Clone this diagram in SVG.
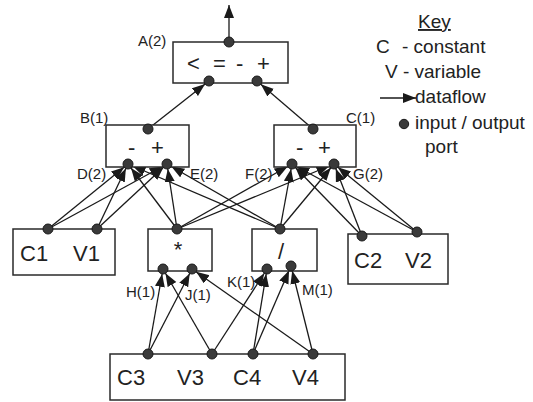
<svg xmlns="http://www.w3.org/2000/svg" width="533" height="402" viewBox="0 0 533 402">
<style>
.box{fill:#fff;stroke:#2a2a2a;stroke-width:1.5}
.port{fill:#3a3a3a;stroke:#1a1a1a;stroke-width:1}
.ln{stroke:#1a1a1a;stroke-width:1.3;fill:none}
.big{font-family:"Liberation Sans",Arial,sans-serif;font-size:22px;fill:#222}
.lbl{font-family:"Liberation Sans",Arial,sans-serif;font-size:15px;fill:#222}
.key{font-family:"Liberation Sans",Arial,sans-serif;font-size:19px;fill:#222}
</style>
<defs>
<marker id="arr" markerUnits="userSpaceOnUse" markerWidth="20" markerHeight="12" refX="18" refY="5" orient="auto">
<path d="M0,0 L13,5 L0,10 z" fill="#1a1a1a"/>
</marker>
<marker id="tip" markerUnits="userSpaceOnUse" markerWidth="14" markerHeight="12" refX="13" refY="5" orient="auto">
<path d="M0,0 L13,5 L0,10 z" fill="#1a1a1a"/>
</marker>
</defs>
<rect width="533" height="402" fill="#fff"/>

<g id="connectors" class="ln">
<line x1="229" y1="42" x2="229" y2="5" marker-end="url(#tip)"/>
<line x1="148" y1="129" x2="209" y2="81" marker-end="url(#arr)"/>
<line x1="313" y1="129" x2="257" y2="81" marker-end="url(#arr)"/>
<!-- D -->
<line x1="48" y1="229" x2="128" y2="164" marker-end="url(#arr)"/>
<line x1="97" y1="229" x2="128" y2="164" marker-end="url(#arr)"/>
<line x1="177" y1="229" x2="128" y2="164" marker-end="url(#arr)"/>
<line x1="280" y1="229" x2="128" y2="164" marker-end="url(#arr)"/>
<!-- E -->
<line x1="48" y1="229" x2="167" y2="164" marker-end="url(#arr)"/>
<line x1="97" y1="229" x2="167" y2="164" marker-end="url(#arr)"/>
<line x1="177" y1="229" x2="167" y2="164" marker-end="url(#arr)"/>
<line x1="280" y1="229" x2="167" y2="164" marker-end="url(#arr)"/>
<!-- F -->
<line x1="177" y1="229" x2="292" y2="164" marker-end="url(#arr)"/>
<line x1="280" y1="229" x2="292" y2="164" marker-end="url(#arr)"/>
<line x1="362" y1="236" x2="292" y2="164" marker-end="url(#arr)"/>
<line x1="417" y1="232" x2="292" y2="164" marker-end="url(#arr)"/>
<!-- G -->
<line x1="177" y1="229" x2="334" y2="164" marker-end="url(#arr)"/>
<line x1="280" y1="229" x2="334" y2="164" marker-end="url(#arr)"/>
<line x1="362" y1="236" x2="334" y2="164" marker-end="url(#arr)"/>
<line x1="417" y1="232" x2="334" y2="164" marker-end="url(#arr)"/>
<!-- H, J, K, M -->
<line x1="148" y1="354" x2="163" y2="269" marker-end="url(#arr)"/>
<line x1="212" y1="354" x2="163" y2="269" marker-end="url(#arr)"/>
<line x1="148" y1="354" x2="192" y2="269" marker-end="url(#arr)"/>
<line x1="313" y1="354" x2="192" y2="269" marker-end="url(#arr)"/>
<line x1="212" y1="354" x2="267" y2="269" marker-end="url(#arr)"/>
<line x1="253" y1="354" x2="267" y2="269" marker-end="url(#arr)"/>
<line x1="253" y1="354" x2="291" y2="266" marker-end="url(#arr)"/>
<line x1="313" y1="354" x2="291" y2="266" marker-end="url(#arr)"/>
</g>

<g id="nodeA">
<rect class="box" x="173" y="42" width="115" height="41"/>
<text class="big" y="71"><tspan x="187">&lt; </tspan><tspan x="213">=</tspan><tspan x="236">- </tspan><tspan x="257">+</tspan></text>
<text class="lbl" x="138" y="46">A(2)</text>
<circle class="port" cx="229" cy="42" r="5"/>
<circle class="port" cx="209" cy="81" r="5"/>
<circle class="port" cx="257" cy="81" r="5"/>
</g>

<g id="nodeB">
<rect class="box" x="106" y="125" width="83" height="42"/>
<text class="big" y="155"><tspan x="128">- </tspan><tspan x="151">+</tspan></text>
<text class="lbl" x="80" y="123">B(1)</text>
<circle class="port" cx="148" cy="129" r="5"/>
<circle class="port" cx="128" cy="164" r="5"/>
<circle class="port" cx="167" cy="164" r="5"/>
<text class="lbl" x="77" y="179">D(2)</text>
<text class="lbl" x="190" y="179">E(2)</text>
</g>

<g id="nodeC">
<rect class="box" x="274" y="125" width="82" height="42"/>
<text class="big" y="155"><tspan x="296">- </tspan><tspan x="318">+</tspan></text>
<text class="lbl" x="346" y="123">C(1)</text>
<circle class="port" cx="313" cy="129" r="5"/>
<circle class="port" cx="292" cy="164" r="5"/>
<circle class="port" cx="334" cy="164" r="5"/>
<text class="lbl" x="245" y="179">F(2)</text>
<text class="lbl" x="353" y="179">G(2)</text>
</g>

<g id="nodeC1V1">
<rect class="box" x="13" y="229" width="102" height="46"/>
<text class="big" y="261"><tspan x="20">C1 </tspan><tspan x="73">V1</tspan></text>
<circle class="port" cx="48" cy="229" r="5"/>
<circle class="port" cx="97" cy="229" r="5"/>
</g>

<g id="nodeMul">
<rect class="box" x="148" y="229" width="64" height="42"/>
<text class="big" x="178" y="257" text-anchor="middle">*</text>
<circle class="port" cx="177" cy="229" r="5"/>
<circle class="port" cx="163" cy="269" r="5"/>
<circle class="port" cx="192" cy="269" r="5"/>
<text class="lbl" x="126" y="297">H(1)</text>
<text class="lbl" x="185" y="300">J(1)</text>
</g>

<g id="nodeDiv">
<rect class="box" x="252" y="229" width="65" height="42"/>
<text class="big" x="281" y="259" text-anchor="middle">/</text>
<circle class="port" cx="280" cy="229" r="5"/>
<circle class="port" cx="267" cy="269" r="5"/>
<circle class="port" cx="291" cy="266" r="5"/>
<text class="lbl" x="227" y="287">K(1)</text>
<text class="lbl" x="302" y="295">M(1)</text>
</g>

<g id="nodeC2V2">
<rect class="box" x="348" y="234" width="100" height="50"/>
<text class="big" y="268"><tspan x="354">C2 </tspan><tspan x="405">V2</tspan></text>
<circle class="port" cx="362" cy="236" r="5"/>
<circle class="port" cx="417" cy="232" r="5"/>
</g>

<g id="nodeBottom">
<rect class="box" x="110" y="354" width="235" height="46"/>
<text class="big" y="385"><tspan x="117">C3 </tspan><tspan x="177">V3 </tspan><tspan x="233">C4 </tspan><tspan x="292">V4</tspan></text>
<circle class="port" cx="148" cy="354" r="5"/>
<circle class="port" cx="212" cy="354" r="5"/>
<circle class="port" cx="253" cy="354" r="5"/>
<circle class="port" cx="313" cy="354" r="5"/>
</g>

<g id="legend">
<text class="key" x="418" y="28" text-decoration="underline">Key</text>
<text class="key" y="53"><tspan x="376">C </tspan><tspan x="402">- constant</tspan></text>
<text class="key" x="385" y="78">V - variable</text>
<line class="ln" x1="380" y1="98" x2="416" y2="98" marker-end="url(#tip)"/>
<text class="key" x="415" y="103">dataflow</text>
<circle class="port" cx="404" cy="124" r="4.7"/>
<text class="key" x="415" y="129">input / output</text>
<text class="key" x="425" y="153">port</text>
</g>
</svg>
